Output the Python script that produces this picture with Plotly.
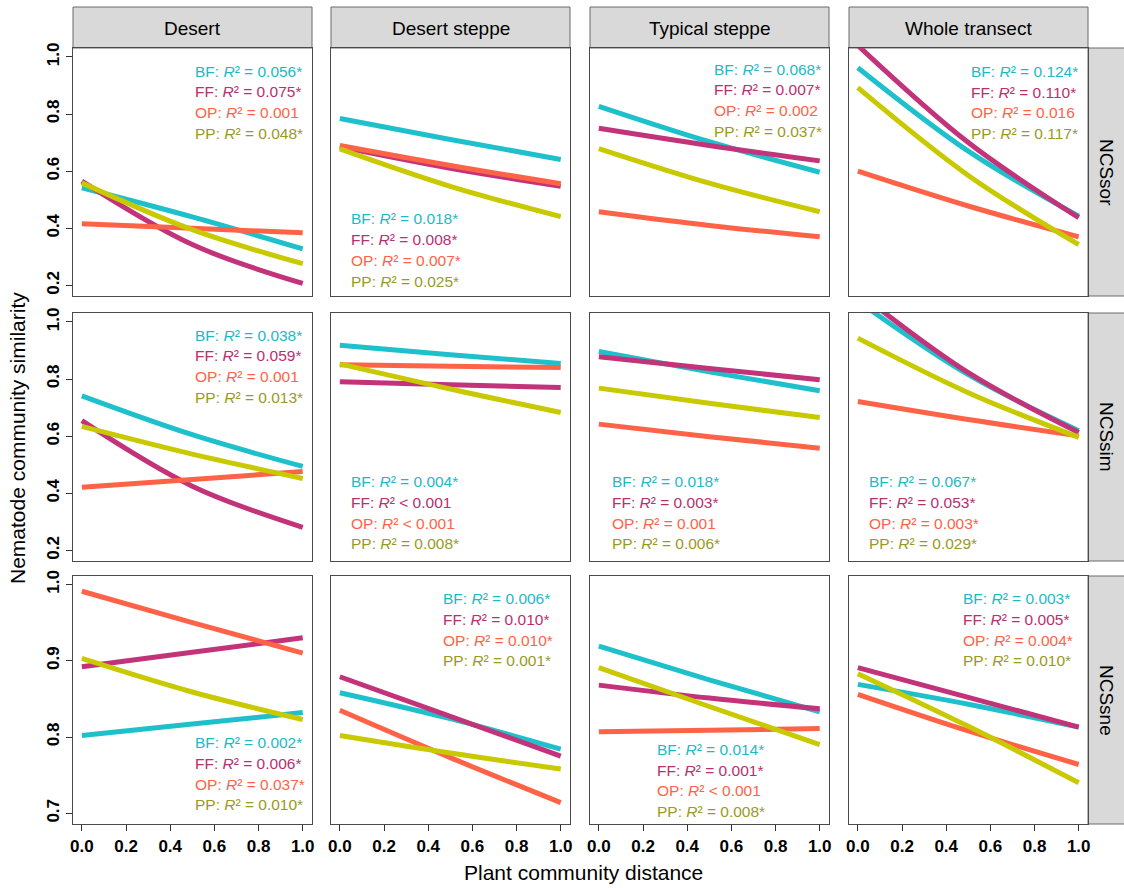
import plotly.graph_objects as go

# ---------------- data ----------------
habitats = ["Desert", "Desert steppe", "Typical steppe", "Whole transect"]
indices = ["NCSsor", "NCSsim", "NCSsne"]
groups = ["BF", "FF", "OP", "PP"]
distance = [0.0, 0.5, 1.0]  # plant community distance at which fitted curves are read

# fitted nematode community similarity at distance 0, 0.5, 1 (one list per habitat)
sor_BF = [[0.542, 0.440, 0.328], [0.784, 0.711, 0.641], [0.827, 0.703, 0.596], [0.962, 0.670, 0.442]]
sor_FF = [[0.565, 0.343, 0.207], [0.685, 0.610, 0.547], [0.750, 0.690, 0.636], [1.040, 0.700, 0.437]]
sor_OP = [[0.416, 0.400, 0.384], [0.690, 0.620, 0.556], [0.458, 0.410, 0.370], [0.600, 0.478, 0.370]]
sor_PP = [[0.559, 0.395, 0.276], [0.678, 0.547, 0.441], [0.679, 0.558, 0.458], [0.892, 0.585, 0.343]]

sim_BF = [[0.741, 0.605, 0.494], [0.918, 0.885, 0.854], [0.896, 0.825, 0.759], [1.073, 0.815, 0.619]]
sim_FF = [[0.654, 0.425, 0.281], [0.790, 0.780, 0.770], [0.878, 0.837, 0.797], [1.104, 0.822, 0.613]]
sim_OP = [[0.421, 0.448, 0.476], [0.850, 0.845, 0.840], [0.642, 0.598, 0.558], [0.721, 0.658, 0.601]]
sim_PP = [[0.634, 0.537, 0.452], [0.853, 0.765, 0.683], [0.768, 0.715, 0.665], [0.943, 0.752, 0.596]]

sne_BF = [[0.802, 0.817, 0.832], [0.858, 0.824, 0.784], [0.919, 0.875, 0.833], [0.869, 0.843, 0.813]]
sne_FF = [[0.892, 0.911, 0.930], [0.879, 0.827, 0.775], [0.868, 0.851, 0.837], [0.891, 0.852, 0.813]]
sne_OP = [[0.991, 0.950, 0.910], [0.835, 0.773, 0.714], [0.807, 0.809, 0.811], [0.856, 0.808, 0.764]]
sne_PP = [[0.903, 0.859, 0.823], [0.802, 0.779, 0.758], [0.891, 0.840, 0.790], [0.883, 0.814, 0.740]]

# R^2 labels (one per habitat)
sor_r2_BF = ["= 0.056*", "= 0.018*", "= 0.068*", "= 0.124*"]
sor_r2_FF = ["= 0.075*", "= 0.008*", "= 0.007*", "= 0.110*"]
sor_r2_OP = ["= 0.001", "= 0.007*", "= 0.002", "= 0.016"]
sor_r2_PP = ["= 0.048*", "= 0.025*", "= 0.037*", "= 0.117*"]

sim_r2_BF = ["= 0.038*", "= 0.004*", "= 0.018*", "= 0.067*"]
sim_r2_FF = ["= 0.059*", "< 0.001", "= 0.003*", "= 0.053*"]
sim_r2_OP = ["= 0.001", "< 0.001", "= 0.001", "= 0.003*"]
sim_r2_PP = ["= 0.013*", "= 0.008*", "= 0.006*", "= 0.029*"]

sne_r2_BF = ["= 0.002*", "= 0.006*", "= 0.014*", "= 0.003*"]
sne_r2_FF = ["= 0.006*", "= 0.010*", "= 0.001*", "= 0.005*"]
sne_r2_OP = ["= 0.037*", "= 0.010*", "< 0.001", "= 0.004*"]
sne_r2_PP = ["= 0.010*", "= 0.001*", "= 0.008*", "= 0.010*"]

x_ticks = [0.0, 0.2, 0.4, 0.6, 0.8, 1.0]
y_ticks_sor_sim = [0.2, 0.4, 0.6, 0.8, 1.0]
y_ticks_sne = [0.7, 0.8, 0.9, 1.0]

# ---------------- assembly ----------------
curves = [
    {"BF": sor_BF, "FF": sor_FF, "OP": sor_OP, "PP": sor_PP},
    {"BF": sim_BF, "FF": sim_FF, "OP": sim_OP, "PP": sim_PP},
    {"BF": sne_BF, "FF": sne_FF, "OP": sne_OP, "PP": sne_PP},
]
r2 = [
    {"BF": sor_r2_BF, "FF": sor_r2_FF, "OP": sor_r2_OP, "PP": sor_r2_PP},
    {"BF": sim_r2_BF, "FF": sim_r2_FF, "OP": sim_r2_OP, "PP": sim_r2_PP},
    {"BF": sne_r2_BF, "FF": sne_r2_FF, "OP": sne_r2_OP, "PP": sne_r2_PP},
]
row_yticks = [y_ticks_sor_sim, y_ticks_sor_sim, y_ticks_sne]

# ---------------- style / layout ----------------
W, H = 1124, 888
FONT = "Liberation Sans, Arial, Helvetica, sans-serif"
line_colors = {"BF": "#1EC0CC", "FF": "#C2337A", "OP": "#FF6347", "PP": "#C9C900"}
text_colors = {"BF": "#1FB9C6", "FF": "#B8306F", "OP": "#FF6347", "PP": "#9A9A1E"}
cols_px = [(73, 312), (331, 570), (590, 829), (849, 1088)]
rows_px = [(48, 296), (313, 561), (576, 824)]
row_ranges = [[0.163, 1.031], [0.163, 1.031], [0.686, 1.011]]
x_range = [-0.04, 1.042]
# label block positions: (left px, first line centre px)
label_pos = [
    [(192.7, 71), (349, 219), (711.7, 69), (969, 71.5)],
    [(192.7, 335), (349.3, 481.7), (610, 481.7), (866.7, 481.7)],
    [(192.7, 742.7), (441, 598.7), (655, 749.3), (960.7, 598.7)],
]
LINE_STEP = 20.7
FRAME = "#4a4a4a"


def px_x(p):
    return p / W


def px_y(p):
    return 1 - p / H


fig = go.Figure()
layout = dict(
    width=W, height=H, autosize=False,
    margin=dict(l=0, r=0, t=0, b=0),
    paper_bgcolor="white", plot_bgcolor="white",
    showlegend=False,
    font=dict(family=FONT, color="black"),
)
annotations = []
shapes = []

for r, idx in enumerate(indices):
    for c, hab in enumerate(habitats):
        k = r * 4 + c + 1
        sfx = "" if k == 1 else str(k)
        for g in groups:
            fig.add_trace(go.Scatter(
                x=distance, y=curves[r][g][c], mode="lines",
                line=dict(color=line_colors[g], width=5, shape="spline"),
                xaxis="x" + sfx, yaxis="y" + sfx, hoverinfo="skip",
            ))
        bottom = r == len(indices) - 1
        left = c == 0
        layout["xaxis" + sfx] = dict(
            domain=[px_x(cols_px[c][0]), px_x(cols_px[c][1])],
            range=x_range, anchor="y" + sfx,
            showline=True, mirror=True, linecolor=FRAME, linewidth=1.3,
            showgrid=False, zeroline=False,
            ticks="outside" if bottom else "", ticklen=6, tickcolor="#333333",
            tickvals=x_ticks, ticktext=[f"{v:.1f}" for v in x_ticks],
            showticklabels=bottom,
            tickfont=dict(family=FONT, size=17, color="black", weight="bold"),
            automargin=False, fixedrange=True,
        )
        layout["yaxis" + sfx] = dict(
            domain=[px_y(rows_px[r][1]), px_y(rows_px[r][0])],
            range=row_ranges[r], anchor="x" + sfx,
            showline=True, mirror=True, linecolor=FRAME, linewidth=1.3,
            showgrid=False, zeroline=False,
            ticks="outside" if left else "", ticklen=6, tickcolor="#333333",
            tickvals=row_yticks[r], ticktext=[f"{v:.1f}" for v in row_yticks[r]],
            showticklabels=left, tickangle=-90,
            tickfont=dict(family=FONT, size=17, color="black", weight="bold"),
            automargin=False, fixedrange=True,
        )
        # R^2 labels
        lx, ly = label_pos[r][c]
        for i, g in enumerate(groups):
            annotations.append(dict(
                xref="paper", yref="paper", x=px_x(lx), y=px_y(ly + i * LINE_STEP),
                xanchor="left", yanchor="middle", showarrow=False,
                text=f"{g}: <i>R</i>\u00b2 {r2[r][g][c]}",
                font=dict(family=FONT, size=15.5, color=text_colors[g]),
            ))

# top strips
for c, hab in enumerate(habitats):
    x0, x1 = cols_px[c]
    shapes.append(dict(type="rect", xref="paper", yref="paper",
                       x0=px_x(x0), x1=px_x(x1), y0=px_y(48), y1=px_y(7),
                       fillcolor="#D9D9D9", line=dict(color="#6b6b6b", width=1), layer="below"))
    annotations.append(dict(xref="paper", yref="paper", x=px_x((x0 + x1) / 2), y=px_y(28),
                            xanchor="center", yanchor="middle", showarrow=False, text=hab,
                            font=dict(family=FONT, size=19, color="black")))
# right strips
for r, idx in enumerate(indices):
    y0, y1 = rows_px[r]
    shapes.append(dict(type="rect", xref="paper", yref="paper",
                       x0=px_x(1088), x1=px_x(1132), y0=px_y(y1), y1=px_y(y0),
                       fillcolor="#D9D9D9", line=dict(color="#6b6b6b", width=1), layer="below"))
    annotations.append(dict(xref="paper", yref="paper", x=px_x(1107), y=px_y((y0 + y1) / 2),
                            xanchor="center", yanchor="middle", showarrow=False, text=idx,
                            textangle=90, font=dict(family=FONT, size=19, color="black")))

# axis titles
annotations.append(dict(xref="paper", yref="paper", x=px_x(18), y=px_y(438),
                        xanchor="center", yanchor="middle", showarrow=False,
                        text="Nematode community similarity", textangle=-90,
                        font=dict(family=FONT, size=21, color="black")))
annotations.append(dict(xref="paper", yref="paper", x=px_x(583), y=px_y(872),
                        xanchor="center", yanchor="middle", showarrow=False,
                        text="Plant community distance",
                        font=dict(family=FONT, size=21, color="black")))

layout["annotations"] = annotations
layout["shapes"] = shapes
fig.update_layout(**layout)

fig.write_html("out.html", config={"displayModeBar": False},
               post_script="document.body.style.margin='0';")
